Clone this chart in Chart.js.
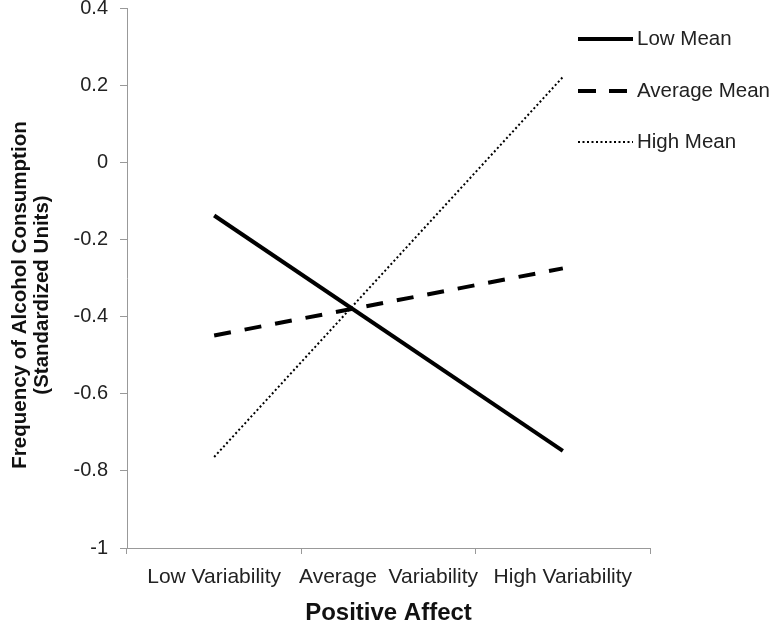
<!DOCTYPE html>
<html lang="en">
<head>
    <meta charset="UTF-8">
    <title>Positive Affect x Alcohol Consumption</title>
    <script src="https://cdn.jsdelivr.net/npm/chart.js"></script>
    <style>
        body { margin: 0; background: #fff; }
        #wrap { width: 773px; height: 625px; position: relative; }
    </style>
</head>
<body>
    <div id="wrap"><canvas id="chart"></canvas></div>

    <script>
        const categories = ['Low Variability', 'Average  Variability', 'High Variability'];
        const seriesNames = ['Low Mean', 'Average Mean', 'High Mean'];
        // only the two end points were plotted, middle left empty
        const lowMean = [-0.138, null, -0.748];
        const averageMean = [-0.449, null, -0.275];
        const highMean = [-0.764, null, 0.221];
        const yTicks = [0.4, 0.2, 0, -0.2, -0.4, -0.6, -0.8, -1];
        const yTitle = ['Frequency of Alcohol Consumption', '(Standardized Units)'];

        const font = "'Liberation Sans', Arial, sans-serif";

        // legend + y title drawn by hand so they sit like the original
        const extras = {
            id: 'extras',
            afterDraw(chart) {
                const ctx = chart.ctx;
                const rows = [39, 91, 142];
                chart.data.datasets.forEach((ds, i) => {
                    ctx.save();
                    ctx.strokeStyle = ds.borderColor;
                    ctx.lineWidth = ds.borderWidth;
                    ctx.setLineDash(ds.legendDash || []);
                    ctx.beginPath();
                    ctx.moveTo(578, rows[i]);
                    ctx.lineTo(633, rows[i]);
                    ctx.stroke();
                    ctx.setLineDash([]);
                    ctx.fillStyle = '#222';
                    ctx.font = '20.5px ' + font;
                    ctx.textBaseline = 'middle';
                    ctx.fillText(ds.label, 637, rows[i]);
                    ctx.restore();
                });

                ctx.save();
                ctx.translate(0, 295);
                ctx.rotate(-Math.PI / 2);
                ctx.fillStyle = '#111';
                ctx.font = 'bold 20.5px ' + font;
                ctx.textAlign = 'center';
                ctx.textBaseline = 'middle';
                yTitle.forEach((t, i) => ctx.fillText(t, 0, 20 + i * 22));
                ctx.restore();
            }
        };

        new Chart(document.getElementById('chart'), {
            type: 'line',
            data: {
                labels: categories,
                datasets: [
                    {
                        label: seriesNames[0],
                        data: lowMean,
                        borderColor: '#000',
                        borderWidth: 4,
                        legendDash: []
                    },
                    {
                        label: seriesNames[1],
                        data: averageMean,
                        borderColor: '#000',
                        borderWidth: 4,
                        borderDash: [17, 14],
                        legendDash: [18, 13]
                    },
                    {
                        label: seriesNames[2],
                        data: highMean,
                        borderColor: '#000',
                        borderWidth: 2,
                        borderDash: [2, 2.5],
                        legendDash: [2, 2.5]
                    }
                ]
            },
            options: {
                responsive: true,
                maintainAspectRatio: false,
                animation: false,
                spanGaps: true,
                elements: { point: { radius: 0 } },
                layout: { padding: { top: 8, right: 123, left: 0, bottom: 0 } },
                plugins: {
                    legend: { display: false },
                    tooltip: { enabled: false }
                },
                scales: {
                    x: {
                        offset: true,
                        grid: { offset: true, drawOnChartArea: false, tickLength: 6, color: '#999' },
                        border: { color: '#999', width: 1 },
                        ticks: { color: '#222', font: { family: font, size: 21 }, padding: 11, maxRotation: 0, autoSkip: false },
                        title: {
                            display: true,
                            text: 'Positive Affect',
                            color: '#111',
                            font: { family: font, size: 24, weight: 'bold', lineHeight: 1 },
                            padding: { top: 0, bottom: 0 }
                        },
                        afterFit(scale) {
                            scale.height = 77;
                            scale.paddingLeft = 0;
                            scale.paddingRight = 0;
                        }
                    },
                    y: {
                        min: -1,
                        max: 0.4,
                        afterBuildTicks(scale) {
                            scale.ticks = yTicks.map(v => ({ value: v }));
                        },
                        grid: { drawOnChartArea: false, tickLength: 7, color: '#999' },
                        border: { color: '#999', width: 1 },
                        ticks: {
                            color: '#222',
                            font: { family: font, size: 20 },
                            padding: 12,
                            callback: v => String(Math.round(v * 10) / 10)
                        },
                        afterFit(scale) {
                            scale.width = 127;
                            scale.paddingTop = 0;
                            scale.paddingBottom = 0;
                        }
                    }
                }
            },
            plugins: [extras]
        });
    </script>
</body>
</html>
